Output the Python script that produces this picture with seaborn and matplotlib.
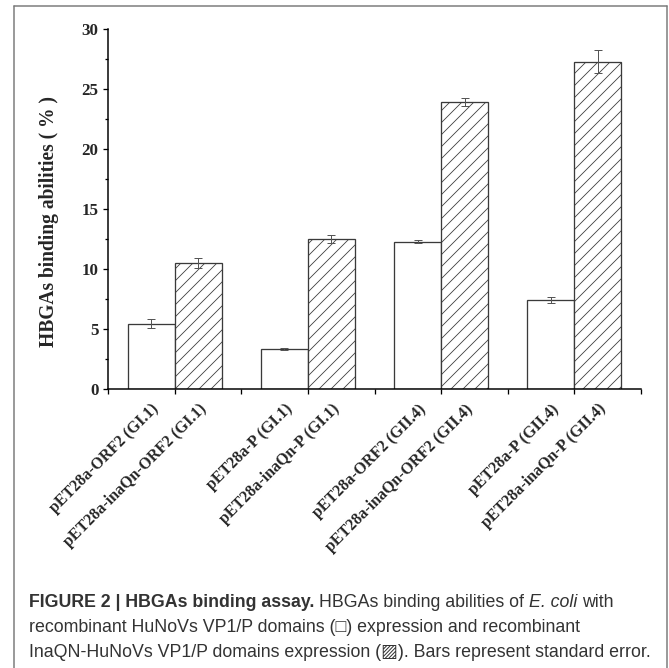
import numpy as np
import pandas as pd
import matplotlib
matplotlib.use("Agg")
import matplotlib.pyplot as plt
from matplotlib.lines import Line2D
from matplotlib.ticker import MultipleLocator
import seaborn as sns

# data
groups = ['ORF2 (GI.1)', 'P (GI.1)', 'ORF2 (GII.4)', 'P (GII.4)']
constructs = ['pET28a', 'pET28a-inaQn']
plain_vals = [5.45, 3.33, 12.3, 7.42]
plain_err = [0.37, 0.08, 0.12, 0.25]
inaqn_vals = [10.53, 12.5, 23.97, 27.3]
inaqn_err = [0.40, 0.35, 0.33, 0.96]
tick_labels = ['pET28a-ORF2 (GI.1)', 'pET28a-inaQn-ORF2 (GI.1)',
               'pET28a-P (GI.1)', 'pET28a-inaQn-P (GI.1)',
               'pET28a-ORF2 (GII.4)', 'pET28a-inaQn-ORF2 (GII.4)',
               'pET28a-P (GII.4)', 'pET28a-inaQn-P (GII.4)']

df = pd.DataFrame({
    'group': groups * 2,
    'construct': [constructs[0]] * len(groups) + [constructs[1]] * len(groups),
    'value': plain_vals + inaqn_vals,
})

sns.set_style('ticks')
plt.rcParams['font.family'] = ['Liberation Serif', 'DejaVu Serif']
plt.rcParams['hatch.linewidth'] = 0.8

W, H = 669, 668
fig = plt.figure(figsize=(W / 72, H / 72), dpi=72)
ax = fig.add_axes([108 / W, 1 - 389 / H, (641 - 108) / W, (389 - 29.3) / H])

sns.barplot(data=df, x='group', y='value', hue='construct',
            palette=['white', 'white'], edgecolor='#3a3a3a', linewidth=1.3,
            width=0.707, gap=0, errorbar=None, legend=False, ax=ax)

for bar in ax.containers[1]:
    bar.set_hatch('//')

centers = []
for cont, errs in zip(ax.containers, [plain_err, inaqn_err]):
    xs = [b.get_x() + b.get_width() / 2 for b in cont]
    ys = [b.get_height() for b in cont]
    centers += xs
    ax.errorbar(xs, ys, yerr=errs, fmt='none', ecolor='#555555',
                elinewidth=1, capsize=4, capthick=1)
centers = sorted(centers)

ax.set_xlim(-0.5, 3.5)
ax.set_ylim(0, 30)
ax.set_xticks(np.arange(-0.5, 3.6, 0.5))
ax.set_xticklabels([])
ax.set_xticks(centers, minor=True)
ax.set_xticklabels(tick_labels, minor=True, rotation=45, ha='right', va='top',
                   rotation_mode='anchor', fontweight='bold', fontsize=16)
ax.tick_params(axis='x', which='minor', length=0, pad=12)
ax.tick_params(axis='x', which='major', length=5, width=1.3, direction='out', color='black')
ax.set_yticks(range(0, 31, 5))
ax.yaxis.set_minor_locator(MultipleLocator(2.5))
ax.tick_params(axis='y', which='major', length=5.5, width=1.3, direction='out',
               labelsize=17, pad=4, color='black')
ax.tick_params(axis='y', which='minor', length=3, width=1.3, direction='out', color='black')
for lab in ax.get_yticklabels():
    lab.set_fontweight('bold')

ax.set_xlabel('')
ax.set_ylabel('HBGAs binding abilities ( % )', fontsize=19.5, fontweight='bold')
ax.yaxis.set_label_coords(-0.092, 0.467)
sns.despine(ax=ax)
for s in ['left', 'bottom']:
    ax.spines[s].set_linewidth(1.5)
    ax.spines[s].set_color('black')

# outer frame (open at the bottom)
fc = '#7a7a7a'
fig.add_artist(Line2D([14 / W, 14 / W], [0, 1 - 6 / H], color=fc, lw=1.5, transform=fig.transFigure))
fig.add_artist(Line2D([14 / W, 667 / W], [1 - 6 / H, 1 - 6 / H], color=fc, lw=1.5, transform=fig.transFigure))
fig.add_artist(Line2D([667 / W, 667 / W], [1 - 6 / H, 0], color=fc, lw=1.5, transform=fig.transFigure))

# caption
cap_size = 17.7
cap_color = '#333333'
cap_font = ['Liberation Sans', 'DejaVu Sans']
caption = [
    [('FIGURE 2 | HBGAs binding assay.', 'bold', 'normal'),
     ('HBGAs binding abilities of', 'normal', 'normal'),
     ('E. coli', 'normal', 'italic'),
     ('with', 'normal', 'normal')],
    [('recombinant HuNoVs VP1/P domains (\u25a1) expression and recombinant', 'normal', 'normal')],
    [('InaQN-HuNoVs VP1/P domains expression (\u25a8). Bars represent standard error.', 'normal', 'normal')],
]
baselines = [607, 632, 657]
renderer = fig.canvas.get_renderer()
space = 0.278 * cap_size
for runs, yb in zip(caption, baselines):
    x = 29
    for txt, wt, st in runs:
        t = fig.text(x / W, 1 - yb / H, txt, fontsize=cap_size, fontweight=wt,
                     fontstyle=st, color=cap_color, family=cap_font,
                     ha='left', va='baseline')
        bb = t.get_window_extent(renderer)
        x = bb.x1 + space

fig.savefig('out.png', dpi=72)
